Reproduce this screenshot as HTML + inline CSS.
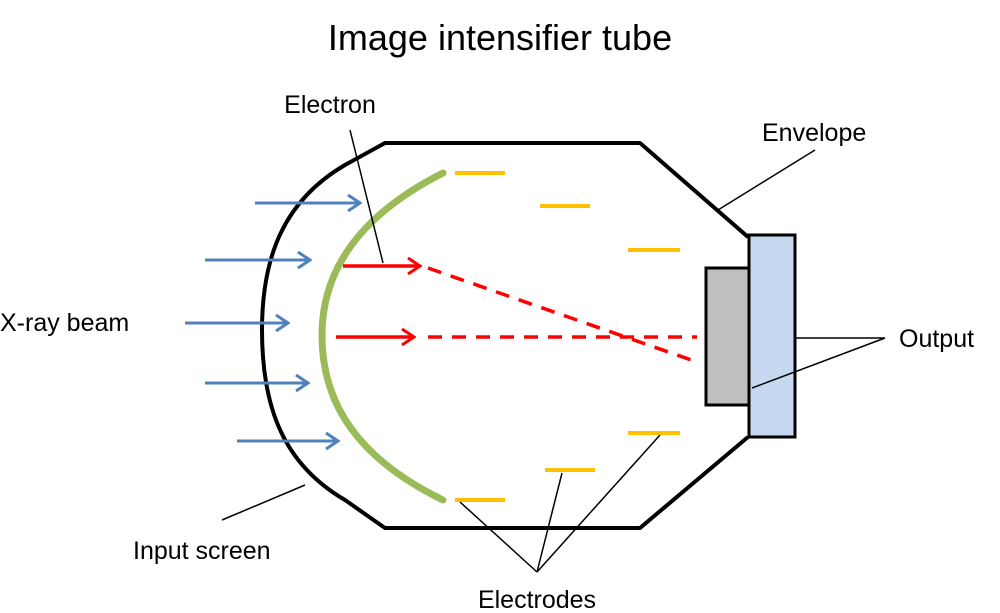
<!DOCTYPE html>
<html><head><meta charset="utf-8"><style>html,body{margin:0;padding:0;background:#fff}svg{display:block}text{font-family:"Liberation Sans",sans-serif;fill:#000}</style></head>
<body>
<svg width="1000" height="613" viewBox="0 0 1000 613">
<defs>
<marker id="ab" markerWidth="16" markerHeight="18" refX="14" refY="9" orient="auto" markerUnits="userSpaceOnUse"><path d="M2,1 L14,9 L2,17" fill="none" stroke="#4F81BD" stroke-width="3"/></marker>
<marker id="ar" markerWidth="16" markerHeight="18" refX="14" refY="9" orient="auto" markerUnits="userSpaceOnUse"><path d="M2,1 L14,9 L2,17" fill="none" stroke="#FF0000" stroke-width="3"/></marker>
</defs>
<text x="500" y="50" font-size="36" text-anchor="middle">Image intensifier tube</text>
<path d="M748,237 L640,143 L385,143 L345,165 C285,200 262,255 262,330 C262,410 285,465 345,500 L385,528 L640,528 L748,437" fill="none" stroke="#000" stroke-width="4" stroke-linejoin="round"/>
<rect x="706" y="268" width="44" height="137" fill="#BFBFBF" stroke="#000" stroke-width="3"/>
<rect x="749" y="235" width="46" height="202" fill="#C6D9F1" stroke="#000" stroke-width="3"/>
<path d="M443,173 C340,225 322,290 322,335 C322,385 340,450 443,500" fill="none" stroke="#9BBB59" stroke-width="7" stroke-linecap="round"/>
<g stroke="#FFC000" stroke-width="4">
<line x1="455" y1="173" x2="505" y2="173"/><line x1="540" y1="206" x2="590" y2="206"/><line x1="628" y1="250" x2="680" y2="250"/>
<line x1="455" y1="500" x2="505" y2="500"/><line x1="545" y1="470" x2="595" y2="470"/><line x1="628" y1="433" x2="680" y2="433"/>
</g>
<g stroke="#4F81BD" stroke-width="3" fill="none">
<line x1="255" y1="203" x2="360" y2="203" marker-end="url(#ab)"/>
<line x1="205" y1="260" x2="310" y2="260" marker-end="url(#ab)"/>
<line x1="185" y1="323" x2="288" y2="323" marker-end="url(#ab)"/>
<line x1="205" y1="383" x2="308" y2="383" marker-end="url(#ab)"/>
<line x1="237" y1="441" x2="338" y2="441" marker-end="url(#ab)"/>
</g>
<g stroke="#FF0000" stroke-width="3.5" fill="none">
<line x1="343" y1="266" x2="420" y2="266" marker-end="url(#ar)"/>
<line x1="336" y1="337" x2="414" y2="337" marker-end="url(#ar)"/>
<line x1="428" y1="268" x2="697" y2="362" stroke-dasharray="14,10"/>
<line x1="428" y1="337" x2="697" y2="337" stroke-dasharray="14,10"/>
</g>
<g stroke="#000" stroke-width="1.5">
<line x1="350" y1="130" x2="383" y2="263"/>
<line x1="815" y1="150" x2="718" y2="210"/>
<line x1="885" y1="338" x2="795" y2="338"/>
<line x1="885" y1="338" x2="752" y2="388"/>
<line x1="222" y1="520" x2="305" y2="485"/>
<line x1="537" y1="572" x2="460" y2="502"/>
<line x1="537" y1="572" x2="562" y2="473"/>
<line x1="537" y1="572" x2="660" y2="435"/>
</g>
<text x="330" y="113" font-size="25" text-anchor="middle">Electron</text>
<text x="762" y="141" font-size="25">Envelope</text>
<text x="899" y="347" font-size="25">Output</text>
<text x="0" y="331" font-size="25">X-ray beam</text>
<text x="133" y="559" font-size="25">Input screen</text>
<text x="537" y="608" font-size="25" text-anchor="middle">Electrodes</text>
</svg>
</body></html>
